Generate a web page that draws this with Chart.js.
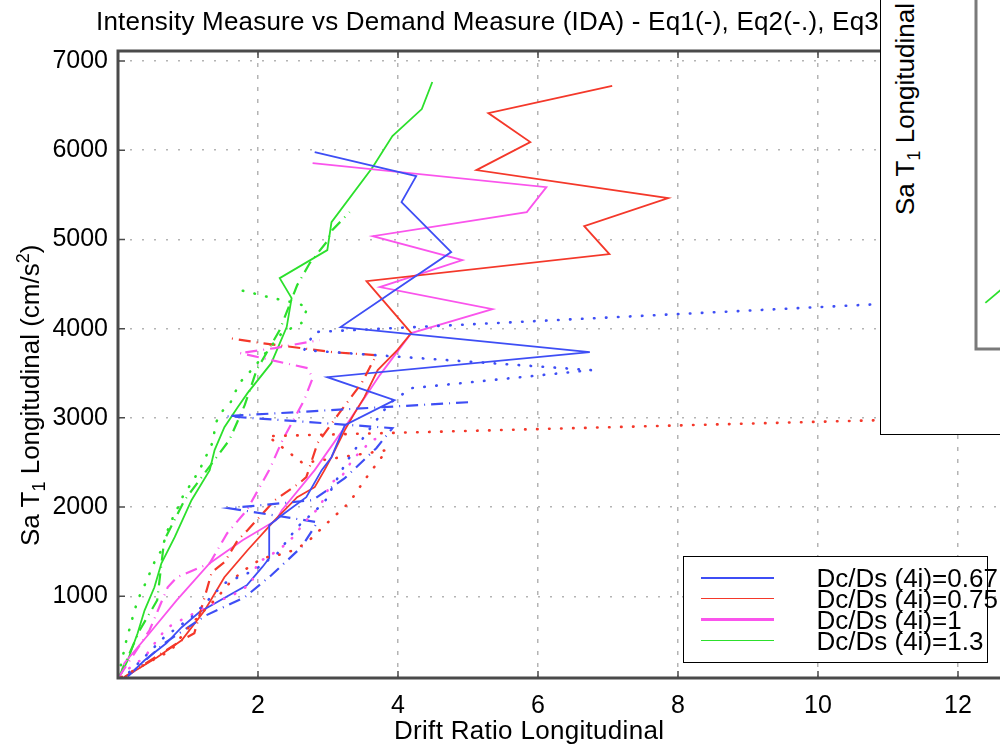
<!DOCTYPE html>
<html lang="en">
<head>
  <meta charset="UTF-8">
  <title>IDA - Sa T1 vs Drift Ratio</title>
  <script src="https://cdnjs.cloudflare.com/ajax/libs/Chart.js/4.4.1/chart.umd.min.js"></script>
  <style>
    body {
      margin: 0;
      background: #fff;
      overflow: hidden;
    }
    #figure {
      position: relative;
      width: 1000px;
      height: 747px;
      overflow: hidden;
      font-family: 'Liberation Sans', Arial, Helvetica, sans-serif;
      color: #000;
    }
    #idaChart { position: absolute; left: 0; top: 0; }
    .txt {
      position: absolute;
      white-space: nowrap;
      font-size: 26px;
      line-height: 26px;
    }
    .rot {
      transform: rotate(-90deg);
      transform-origin: 0 0;
    }
    .txt sub, .txt sup {
      font-size: 18px;
      line-height: 0;
    }
    #legend {
      position: absolute;
      left: 683px;
      top: 556px;
      width: 305px;
      height: 107px;
      box-sizing: border-box;
      border: 1.5px solid #000;
      background: #fff;
    }
    .swatch { position: absolute; left: 16.5px; width: 73px; }
    #insetBox {
      position: absolute;
      left: 880px;
      top: -20px;
      width: 300px;
      height: 455px;
      box-sizing: border-box;
      border: 1.5px solid #000;
      background: #fff;
    }
    #insetChart { position: absolute; left: 960px; top: 0; }
  </style>
</head>
<body>
  <div id="figure">
    <canvas id="idaChart" width="1120" height="747"></canvas>
    <div class="txt" style="left:96px; top:8px; letter-spacing:0.2px;">Intensity Measure vs Demand Measure (IDA) - Eq1(-), Eq2(-.), Eq3(:)</div>
    <div class="txt rot" style="left:17px; top:546px;">Sa T<sub>1</sub> Longitudinal (cm/s<sup>2</sup>)</div>
    <div class="txt" style="left:394px; top:717px; letter-spacing:0.3px;">Drift Ratio Longitudinal</div>
    <div id="legend"></div>
    <div id="insetBox"></div>
    <div class="txt rot" style="left:892px; top:215px;">Sa T<sub>1</sub> Longitudinal (cm/s<sup>2</sup>)</div>
    <canvas id="insetChart" width="120" height="360"></canvas>
  </div>

  <script>
    // Axis ticks
    const xTicks = [2, 4, 6, 8, 10, 12];
    const yTicks = [1000, 2000, 3000, 4000, 5000, 6000, 7000];

    // Legend entries (one per Dc/Ds ratio)
    const legendLabels = ['Dc/Ds (4i)=0.67', 'Dc/Ds (4i)=0.75', 'Dc/Ds (4i)=1', 'Dc/Ds (4i)=1.3'];
    const colors = ['rgb(62,78,245)', 'rgb(244,56,42)', 'rgb(250,84,236)', 'rgb(44,224,44)'];

    // Dc/Ds = 0.67
    const drift067Eq1 = [0.14, 0.38, 0.69, 0.91, 1.16, 1.84, 2.06, 2.16, 2.16, 2.34, 2.69, 2.91, 3.05, 3.24, 3.95, 2.99, 6.74, 3.18, 4.76, 4.05, 4.26, 2.81];
    const sa067Eq1 = [103, 283, 473, 653, 821, 1124, 1326, 1427, 1797, 1909, 2111, 2414, 2559, 2918, 3199, 3456, 3737, 4018, 4858, 5418, 5710, 5979];
    const drift067Eq2 = [0.14, 0.66, 1.26, 1.81, 2.19, 2.62, 2.85, 1.59, 2.78, 3.24, 3.69, 3.92, 1.55, 5.02];
    const sa067Eq2 = [103, 473, 787, 989, 1236, 1550, 1830, 1987, 2077, 2324, 2660, 2885, 3019, 3176];
    const drift067Eq3 = [0.16, 0.66, 1.05, 1.52, 1.95, 2.28, 2.56, 2.95, 3.26, 3.56, 3.88, 4.19, 6.76, 2.66, 2.81, 10.88, 13.16];
    const sa067Eq3 = [148, 541, 765, 1146, 1292, 1483, 1774, 2055, 2503, 2840, 3165, 3333, 3535, 3759, 3962, 4275, 4365];

    // Dc/Ds = 0.75
    const drift075Eq1 = [0.09, 0.56, 0.91, 1.24, 1.52, 1.85, 2.24, 2.56, 2.81, 2.95, 3.05, 3.24, 3.38, 3.52, 3.71, 3.99, 4.19, 3.55, 7.02, 6.66, 7.86, 5.12, 5.89, 5.29, 7.06];
    const sa075Eq1 = [92, 316, 507, 843, 1213, 1516, 1853, 2111, 2223, 2414, 2559, 2862, 3053, 3232, 3535, 3759, 3950, 4533, 4836, 5149, 5463, 5777, 6091, 6416, 6720];
    const drift075Eq2 = [0.09, 0.69, 0.91, 1.09, 1.34, 1.52, 1.71, 1.85, 2.24, 2.59, 2.69, 2.85, 3.16, 3.48, 3.69, 3.06, 2.05, 1.59];
    const sa075Eq2 = [92, 395, 507, 586, 1270, 1382, 1628, 1741, 2077, 2268, 2335, 2716, 3053, 3389, 3703, 3737, 3838, 3894];
    const drift075Eq3 = [0.05, 0.76, 0.95, 1.19, 1.42, 1.59, 1.76, 2.06, 2.41, 2.69, 2.94, 3.31, 3.52, 3.84, 2.64, 2.14, 10.88, 13.31];
    const sa075Eq3 = [95, 395, 597, 810, 989, 1146, 1270, 1427, 1483, 1595, 1786, 2055, 2301, 2638, 2492, 2795, 2974, 3019];

    // Dc/Ds = 1
    const drift1Eq1 = [0.05, 0.09, 0.45, 0.84, 1.31, 1.78, 2.26, 2.34, 2.81, 3.28, 3.74, 4.19, 5.35, 3.74, 4.92, 3.64, 5.84, 6.12, 2.78];
    const sa1Eq1 = [170, 249, 586, 956, 1370, 1628, 1853, 1965, 2414, 2941, 3479, 3950, 4219, 4466, 4768, 5037, 5306, 5586, 5856];
    const drift1Eq2 = [0.02, 0.45, 0.71, 0.84, 1.31, 1.56, 1.84, 2.16, 2.35, 2.66, 2.78, 2.71, 1.74, 2.24, 2.88];
    const sa1Eq2 = [103, 619, 1101, 1213, 1370, 1707, 1965, 2414, 2750, 3199, 3445, 3557, 3726, 3782, 3872];
    const drift1Eq3 = [0.16, 0.38, 0.48, 0.69, 0.84, 1.45, 1.59, 1.76, 1.91, 1.99, 2.14, 2.42, 2.55, 2.64, 2.76, 2.88, 3.05, 3.19, 3.28, 3.38, 3.49, 3.62, 3.78];
    const sa1Eq3 = [193, 316, 428, 642, 709, 956, 989, 1068, 1146, 1382, 1438, 1595, 1707, 1808, 1909, 1998, 2279, 2335, 2447, 2559, 2638, 2750, 2784];

    // Dc/Ds = 1.3
    const drift13Eq1 = [0.05, 0.14, 0.28, 0.38, 0.52, 0.62, 0.81, 1.05, 1.31, 1.38, 1.52, 1.71, 1.85, 2.19, 2.41, 2.48, 2.31, 2.99, 3.05, 3.64, 3.92, 4.34, 4.49];
    const sa13Eq1 = [137, 283, 586, 843, 1101, 1370, 1662, 2077, 2414, 2638, 2896, 3120, 3277, 3613, 4018, 4342, 4566, 4880, 5194, 5811, 6158, 6461, 6765];
    const drift13Eq2 = [0.02, 0.31, 0.56, 0.66, 0.95, 1.59, 1.81, 1.98, 2.31, 2.56, 2.74, 2.98, 3.06, 3.31];
    const sa13Eq2 = [103, 619, 956, 1628, 2077, 2750, 3142, 3535, 3984, 4488, 4735, 4970, 5104, 5306];
    const drift13Eq3 = [0.04, 0.12, 0.21, 0.28, 0.38, 0.52, 0.62, 0.71, 0.78, 0.85, 0.92, 1.02, 1.11, 1.19, 1.34, 1.41, 1.49, 1.61, 1.68, 1.76, 1.88, 1.99, 2.06, 2.34, 2.62, 2.71, 2.55, 2.21, 1.69];
    const sa13Eq3 = [227, 507, 765, 956, 1124, 1382, 1516, 1741, 1875, 1987, 2111, 2234, 2346, 2458, 2705, 2963, 3075, 3176, 3299, 3412, 3512, 3613, 3681, 3950, 4062, 4242, 4286, 4342, 4443];

    // Small axes partly hidden at the top right
    const insetDrift = [0.09, 0.42];
    const insetSa = [132, 215];

    const fontFamily = "'Liberation Sans', Arial, Helvetica, sans-serif";

    // line style per record: Eq1 solid, Eq2 dash-dot, Eq3 dotted
    const lineStyles = [
      { dash: [], width: 1.8, cap: 'butt' },
      { dash: [12, 6, 1, 6], width: 2.2, cap: 'butt' },
      { dash: [0.5, 11.5], width: 2.6, cap: 'round' }
    ];

    const curves = [
      [drift067Eq3, sa067Eq3, 0, 2], [drift075Eq3, sa075Eq3, 1, 2], [drift1Eq3, sa1Eq3, 2, 2], [drift13Eq3, sa13Eq3, 3, 2],
      [drift067Eq2, sa067Eq2, 0, 1], [drift075Eq2, sa075Eq2, 1, 1], [drift1Eq2, sa1Eq2, 2, 1], [drift13Eq2, sa13Eq2, 3, 1],
      [drift067Eq1, sa067Eq1, 0, 0], [drift075Eq1, sa075Eq1, 1, 0], [drift1Eq1, sa1Eq1, 2, 0], [drift13Eq1, sa13Eq1, 3, 0]
    ];

    const datasets = curves.map(([xs, ys, c, s]) => ({
      data: xs.map((x, i) => ({ x: x, y: ys[i] })),
      showLine: true,
      pointRadius: 0,
      borderColor: colors[c],
      borderWidth: lineStyles[s].width,
      borderDash: lineStyles[s].dash,
      borderCapStyle: lineStyles[s].cap,
      tension: 0
    }));

    // Axes box with inward tick marks, drawn over the data like a MATLAB axes
    const axesFrame = {
      id: 'axesFrame',
      afterDatasetsDraw(chart, args, opts) {
        const { ctx, chartArea: a, scales } = chart;
        ctx.save();
        ctx.strokeStyle = opts.color;
        ctx.lineWidth = opts.width;
        ctx.beginPath();
        if (opts.top) {
          ctx.moveTo(a.right, a.top);
          ctx.lineTo(a.left, a.top);
        } else {
          ctx.moveTo(a.left, a.top);
        }
        ctx.lineTo(a.left, a.bottom);
        ctx.lineTo(a.right, a.bottom);
        ctx.stroke();
        if (opts.ticks) {
          ctx.lineWidth = 1.5;
          ctx.beginPath();
          scales.x.ticks.forEach(t => {
            const px = scales.x.getPixelForValue(t.value);
            ctx.moveTo(px, a.bottom);
            ctx.lineTo(px, a.bottom - 7);
            ctx.moveTo(px, a.top);
            ctx.lineTo(px, a.top + 7);
          });
          scales.y.ticks.forEach(t => {
            const py = scales.y.getPixelForValue(t.value);
            ctx.moveTo(a.left, py);
            ctx.lineTo(a.left + 7, py);
          });
          ctx.stroke();
        }
        ctx.restore();
      }
    };

    new Chart(document.getElementById('idaChart'), {
      type: 'scatter',
      data: { datasets: datasets },
      options: {
        responsive: false,
        animation: false,
        devicePixelRatio: 1,
        layout: { padding: { top: 51, right: 22, left: 0, bottom: 0 } },
        plugins: {
          legend: { display: false },
          tooltip: { enabled: false },
          axesFrame: { color: '#4a4a4a', width: 3, top: true, ticks: true }
        },
        scales: {
          x: {
            type: 'linear',
            min: 0,
            max: 14,
            afterBuildTicks: scale => { scale.ticks = xTicks.map(v => ({ value: v })); },
            afterFit: scale => { scale.height = 69; },
            grid: { color: '#b4b4b4', lineWidth: 1.5, drawTicks: false },
            border: { display: false, dash: [4, 8] },
            ticks: {
              color: '#000',
              font: { family: fontFamily, size: 25 },
              padding: 13,
              maxRotation: 0,
              autoSkip: false,
              callback: v => String(v)
            }
          },
          y: {
            type: 'linear',
            min: 84,
            max: 7112,
            afterBuildTicks: scale => { scale.ticks = yTicks.map(v => ({ value: v })); },
            afterFit: scale => { scale.width = 118; },
            grid: { color: '#b4b4b4', lineWidth: 1.5, drawTicks: false },
            border: { display: false, dash: [2, 10] },
            ticks: {
              color: '#000',
              font: { family: fontFamily, size: 25 },
              padding: 10,
              autoSkip: false,
              callback: v => String(v)
            }
          }
        }
      },
      plugins: [axesFrame]
    });

    // Inner axes of the overlapping panel
    new Chart(document.getElementById('insetChart'), {
      type: 'scatter',
      data: {
        datasets: [{
          data: insetDrift.map((x, i) => ({ x: x, y: insetSa[i] })),
          showLine: true,
          pointRadius: 0,
          borderColor: colors[3],
          borderWidth: 1.8
        }]
      },
      options: {
        responsive: false,
        animation: false,
        devicePixelRatio: 1,
        layout: { padding: { top: 0, right: 0, left: 16, bottom: 11 } },
        plugins: {
          legend: { display: false },
          tooltip: { enabled: false },
          axesFrame: { color: '#7a7a7a', width: 3, top: false, ticks: false }
        },
        scales: {
          x: { type: 'linear', min: 0, max: 1, display: false },
          y: { type: 'linear', min: 0, max: 1000, display: false }
        }
      },
      plugins: [axesFrame]
    });

    // Legend: solid line sample for each ratio
    const legend = document.getElementById('legend');
    const rowCenters = [20.5, 41.5, 62.5, 83.5];
    const swatchWidths = [2, 1.5, 2.5, 1.5];
    legendLabels.forEach((label, i) => {
      const sw = document.createElement('div');
      sw.className = 'swatch';
      sw.style.top = (rowCenters[i] - swatchWidths[i] / 2) + 'px';
      sw.style.height = swatchWidths[i] + 'px';
      sw.style.background = colors[i];
      legend.appendChild(sw);

      const tx = document.createElement('div');
      tx.className = 'txt';
      tx.style.left = '132.5px';
      tx.style.top = (rowCenters[i] - 13) + 'px';
      tx.textContent = label;
      legend.appendChild(tx);
    });
  </script>
</body>
</html>
